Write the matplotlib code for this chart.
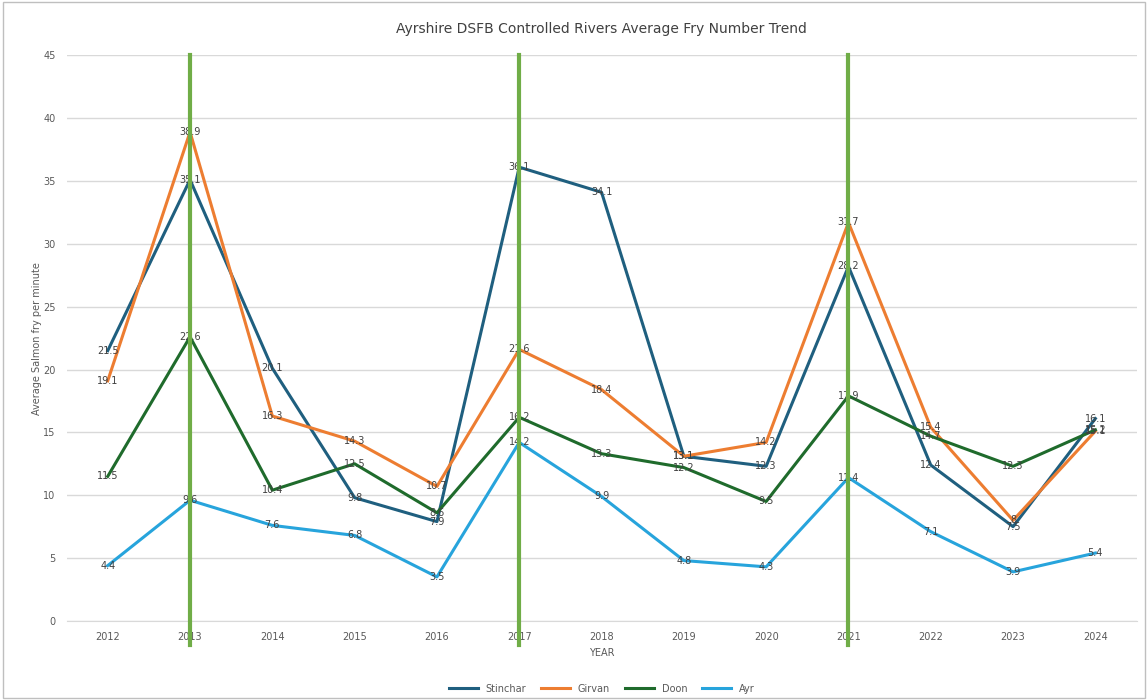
import matplotlib.pyplot as plt
from matplotlib.patches import Rectangle

# Average fry counts per river, 2012-2024
years = ["2012", "2013", "2014", "2015", "2016", "2017", "2018",
         "2019", "2020", "2021", "2022", "2023", "2024"]
stinchar = [21.5, 35.1, 20.1, 9.8, 7.9, 36.1, 34.1, 13.1, 12.3, 28.2, 12.4, 7.5, 16.1]
girvan = [19.1, 38.9, 16.3, 14.3, 10.7, 21.6, 18.4, 13.1, 14.2, 31.7, 15.4, 8.0, 15.1]
doon = [11.5, 22.6, 10.4, 12.5, 8.6, 16.2, 13.3, 12.2, 9.5, 17.9, 14.7, 12.3, 15.2]
ayr = [4.4, 9.6, 7.6, 6.8, 3.5, 14.2, 9.9, 4.8, 4.3, 11.4, 7.1, 3.9, 5.4]
marker_years = ["2013", "2017", "2021"]

series = [
    ("Stinchar", stinchar, "#1f5f7f"),
    ("Girvan", girvan, "#ed7d31"),
    ("Doon", doon, "#1f6b2c"),
    ("Ayr", ayr, "#27a4dc"),
]

fig = plt.figure(figsize=(11.48, 7.0), dpi=100)
ax = fig.add_axes([0.058, 0.113, 0.932, 0.808])

x = list(range(len(years)))
for name, values, colour in series:
    ax.plot(x, values, color=colour, linewidth=2.2, label=name, zorder=3)
    for xi, v in zip(x, values):
        ax.text(xi, v, "{:g}".format(v), ha="center", va="center",
                fontsize=7, color="#404040", zorder=4)

for yr in marker_years:
    ax.axvline(years.index(yr), ymin=-0.042, ymax=1.0, color="#70ad47",
               linewidth=3, clip_on=False, zorder=5)

ax.set_xlim(-0.5, len(years) - 0.5)
ax.set_ylim(0, 45)
ax.set_yticks(range(0, 50, 5))
ax.set_xticks(x)
ax.set_xticklabels(years)
ax.tick_params(length=0, labelsize=7, colors="#595959", pad=8)
ax.grid(axis="y", color="#d9d9d9", linewidth=1)
ax.set_axisbelow(True)
for side in ["top", "right", "left"]:
    ax.spines[side].set_visible(False)
ax.spines["bottom"].set_color("#d9d9d9")

ax.set_title("Ayrshire DSFB Controlled Rivers Average Fry Number Trend",
             fontsize=10, color="#404040", pad=16)
ax.set_xlabel("YEAR", fontsize=7, color="#595959", labelpad=4)
ax.set_ylabel("Average Salmon fry per minute", fontsize=7, color="#595959", labelpad=1)

ax.legend(loc="center", bbox_to_anchor=(0.5, -0.12), ncol=4, frameon=False,
          fontsize=7, labelcolor="#595959", handlelength=3, columnspacing=1.5)

fig.patches.append(Rectangle((0.003, 0.003), 0.994, 0.994, transform=fig.transFigure,
                             fill=False, edgecolor="#bfbfbf", linewidth=1))

plt.savefig("out.png")
